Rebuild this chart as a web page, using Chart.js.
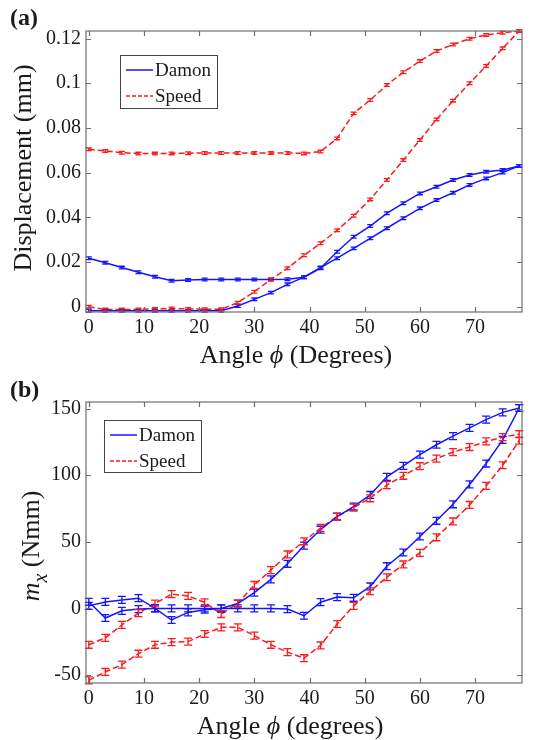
<!DOCTYPE html>
<html>
<head>
<meta charset="utf-8">
<script src="https://cdn.jsdelivr.net/npm/chart.js@4"></script>
<style>
  body { margin: 0; background: #fff; }
  .panel { position: relative; width: 541px; height: 370px; }
  canvas { display: block; }
</style>
</head>
<body>
<div class="panel"><canvas id="chartA" width="541" height="370"></canvas></div>
<div class="panel"><canvas id="chartB" width="541" height="370"></canvas></div>
<script>
// shared x values (angle, degrees)
const angles = [0, 3, 6, 9, 12, 15, 18, 21, 24, 27, 30, 33, 36, 39, 42, 45, 48, 51, 54, 57, 60, 63, 66, 69, 72, 75, 78];
const xTicks = [0, 10, 20, 30, 40, 50, 60, 70];
const seriesNames = ["Damon", "Speed"];

// (a) displacement (mm), two branches per bracket
const dispTicks = [0, 0.02, 0.04, 0.06, 0.08, 0.1, 0.12];
const dispTickLabels = ["0", "0.02", "0.04", "0.06", "0.08", "0.1", "0.12"];
const damonDispLow = [-0.0018, -0.0018, -0.0018, -0.0018, -0.0018, -0.0018, -0.0018, -0.0018, -0.0018, 0.0003, 0.0033, 0.0063, 0.0100, 0.0132, 0.0175, 0.0217, 0.0261, 0.0306, 0.0351, 0.0396, 0.0440, 0.0477, 0.0510, 0.0545, 0.0574, 0.0600, 0.0630];
const damonDispHigh = [0.0217, 0.0197, 0.0175, 0.0154, 0.0134, 0.0116, 0.0119, 0.0122, 0.0122, 0.0122, 0.0122, 0.0122, 0.0123, 0.0132, 0.0172, 0.0246, 0.0313, 0.0361, 0.0418, 0.0463, 0.0507, 0.0537, 0.0567, 0.0589, 0.0604, 0.0612, 0.0630];
const speedDispLow = [0.0000, -0.0013, -0.0013, -0.0012, -0.0010, -0.0008, -0.0010, -0.0011, -0.0011, 0.0018, 0.0067, 0.0122, 0.0172, 0.0230, 0.0284, 0.0342, 0.0407, 0.0480, 0.0567, 0.0656, 0.0746, 0.0838, 0.0922, 0.1000, 0.1077, 0.1156, 0.1234];
const speedDispHigh = [0.0704, 0.0697, 0.0689, 0.0685, 0.0685, 0.0686, 0.0687, 0.0688, 0.0688, 0.0688, 0.0688, 0.0688, 0.0688, 0.0686, 0.0694, 0.0753, 0.0865, 0.0925, 0.0992, 0.1049, 0.1099, 0.1144, 0.1173, 0.1199, 0.1216, 0.1226, 0.1234];
const dispErr = 0.0006;

// (b) moment m_x (Nmm)
const momentTicks = [-50, 0, 50, 100, 150];
const momentTickLabels = ["-50", "0", "50", "100", "150"];
const damonMomentUp = [1.9, 4.9, 6.4, 7.7, 0, -8.7, -3.0, -1.0, 0, 3.7, 11.9, 21.8, 33.5, 47.2, 59.1, 69.0, 76.5, 85.2, 98.8, 107.0, 115.5, 122.9, 129.4, 135.6, 141.8, 147.2, 150.5];
const damonMomentDown = [5.0, -7.2, -1.8, -0.5, 0, 0, 0, 0, 0, 0, 0, 0, -0.5, -5.5, 4.7, 8.5, 8.0, 16.5, 31.7, 42.0, 54.0, 65.8, 78.2, 93.1, 108.8, 126.5, 150.5];
const speedMomentUp = [-27.3, -22.1, -12.4, -3.5, 3.7, 10.7, 9.4, 4.5, -4.2, 3.7, 17.6, 28.8, 40.5, 50.4, 60.4, 69.0, 75.7, 82.7, 92.6, 99.6, 106.8, 112.5, 117.4, 121.2, 125.4, 128.6, 130.8];
const speedMomentDown = [-54.0, -47.7, -42.2, -34.0, -27.3, -25.3, -24.9, -19.2, -14.2, -14.2, -20.4, -27.3, -32.8, -37.4, -27.8, -11.7, 1.9, 12.9, 23.4, 33.0, 41.7, 53.4, 65.3, 77.7, 92.0, 107.5, 126.0];
const momentErr = 2.6;

const BLUE = "rgb(20,20,255)";
const RED = "rgb(255,25,25)";
const SERIF = '"Liberation Serif", "DejaVu Serif", serif';

function branch(vals, color, dashed, err) {
    return {
        data: angles.map((a, i) => ({ x: a, y: vals[i] })),
        borderColor: color,
        backgroundColor: color,
        borderWidth: 1.5,
        borderDash: dashed ? [6, 3] : [],
        pointRadius: 0,
        showLine: true,
        tension: 0,
        err
    };
}

// little error bars on every point
const errorBars = {
    id: "errorBars",
    afterDatasetsDraw(chart) {
        const { ctx, scales: { x, y } } = chart;
        chart.data.datasets.forEach(ds => {
            ctx.save();
            ctx.strokeStyle = ds.borderColor;
            ctx.lineWidth = 1.3;
            ctx.setLineDash([]);
            ds.data.forEach(p => {
                const px = x.getPixelForValue(p.x);
                const y1 = y.getPixelForValue(p.y - ds.err);
                const y2 = y.getPixelForValue(p.y + ds.err);
                const c = chart.options.plugins.errorBars.cap;
                ctx.beginPath();
                ctx.moveTo(px, y1); ctx.lineTo(px, y2);
                ctx.moveTo(px - c, y1); ctx.lineTo(px + c, y1);
                ctx.moveTo(px - c, y2); ctx.lineTo(px + c, y2);
                ctx.stroke();
            });
            ctx.restore();
        });
    }
};

// matlab style box with inward ticks, titles and legend
const decor = {
    id: "decor",
    afterDraw(chart) {
        const o = chart.options.plugins.decor;
        const { ctx, chartArea: a, scales: { x, y } } = chart;
        ctx.save();
        ctx.strokeStyle = "#6e6e6e";
        ctx.lineWidth = 1.2;
        ctx.setLineDash([]);
        ctx.strokeRect(a.left, a.top, a.right - a.left, a.bottom - a.top);
        ctx.beginPath();
        x.ticks.forEach(t => {
            const px = Math.round(x.getPixelForValue(t.value)) + 0.5;
            ctx.moveTo(px, a.bottom); ctx.lineTo(px, a.bottom - 5);
            ctx.moveTo(px, a.top); ctx.lineTo(px, a.top + 5);
        });
        y.ticks.forEach(t => {
            const py = Math.round(y.getPixelForValue(t.value)) + 0.5;
            ctx.moveTo(a.left, py); ctx.lineTo(a.left + 5, py);
            ctx.moveTo(a.right, py); ctx.lineTo(a.right - 5, py);
        });
        ctx.stroke();

        // legend
        const L = o.legend;
        ctx.fillStyle = "#fff";
        ctx.fillRect(L.x, L.y, L.w, L.h);
        ctx.strokeStyle = "#444";
        ctx.lineWidth = 1;
        ctx.strokeRect(L.x + 0.5, L.y + 0.5, L.w, L.h);
        [BLUE, RED].forEach((col, i) => {
            const ry = L.y + L.rows[i];
            ctx.strokeStyle = col;
            ctx.lineWidth = 1.5;
            ctx.setLineDash(i ? [4, 2] : []);
            ctx.beginPath();
            ctx.moveTo(L.x + 6, ry); ctx.lineTo(L.x + 33, ry);
            ctx.stroke();
            ctx.setLineDash([]);
            ctx.fillStyle = "#1a1a1a";
            ctx.font = "19px " + SERIF;
            ctx.textBaseline = "middle";
            ctx.fillText(seriesNames[i], L.x + 35, ry + 1);
        });

        // panel letter
        ctx.fillStyle = "#1a1a1a";
        ctx.font = "bold 24px " + SERIF;
        ctx.textBaseline = "alphabetic";
        ctx.fillText(o.letter, 10, o.letterY);

        drawRuns(ctx, o.xTitle, o.xTitlePos[0], o.xTitlePos[1], false);
        drawRuns(ctx, o.yTitle, o.yTitlePos[0], o.yTitlePos[1], true);
        ctx.restore();
    }
};

function drawRuns(ctx, runs, cx, cy, rotate) {
    ctx.save();
    ctx.translate(cx, cy);
    if (rotate) ctx.rotate(-Math.PI / 2);
    let total = 0;
    runs.forEach(r => { ctx.font = r.font; r.w = ctx.measureText(r.text).width; total += r.w; });
    let u = -total / 2;
    ctx.textAlign = "left";
    ctx.textBaseline = "alphabetic";
    ctx.fillStyle = "#1a1a1a";
    runs.forEach(r => { ctx.font = r.font; ctx.fillText(r.text, u, r.dy || 0); u += r.w; });
    ctx.restore();
}

function makeChart(id, datasets, yMin, yMax, yTicks, yLabels, err, cap, decorOpts) {
    return new Chart(document.getElementById(id), {
        type: "scatter",
        data: { datasets },
        plugins: [errorBars, decor],
        options: {
            responsive: false,
            animation: false,
            layout: { padding: { top: decorOpts.top, right: 19, left: 0, bottom: 0 } },
            plugins: {
                legend: { display: false },
                tooltip: { enabled: false },
                errorBars: { cap },
                decor: decorOpts
            },
            scales: {
                x: {
                    type: "linear",
                    min: -0.5,
                    max: 78.5,
                    afterBuildTicks: s => { s.ticks = xTicks.map(v => ({ value: v })); },
                    afterFit: s => { s.height = decorOpts.xAxisH; },
                    grid: { display: false, drawTicks: false },
                    border: { display: false },
                    ticks: { font: { family: SERIF, size: 20 }, color: "#1a1a1a", padding: 4, maxRotation: 0 }
                },
                y: {
                    type: "linear",
                    min: yMin,
                    max: yMax,
                    afterBuildTicks: s => { s.ticks = yTicks.map(v => ({ value: v })); },
                    afterFit: s => { s.width = 86; },
                    grid: { display: false, drawTicks: false },
                    border: { display: false },
                    ticks: {
                        font: { family: SERIF, size: 20 },
                        color: "#1a1a1a",
                        padding: 5,
                        callback: v => yLabels[yTicks.indexOf(v)]
                    }
                }
            }
        }
    });
}

makeChart("chartA", [
    branch(damonDispLow, BLUE, false, dispErr),
    branch(damonDispHigh, BLUE, false, dispErr),
    branch(speedDispLow, RED, true, dispErr),
    branch(speedDispHigh, RED, true, dispErr)
], -0.00237, 0.12336, dispTicks, dispTickLabels, dispErr, 3, {
    top: 31,
    xAxisH: 58,
    letter: "(a)",
    letterY: 25,
    legend: { x: 120, y: 55, w: 97, h: 53, rows: [15, 41] },
    xTitle: [
        { text: "Angle ", font: "26px " + SERIF },
        { text: "ϕ", font: "italic 26px " + SERIF },
        { text: " (Degrees)", font: "26px " + SERIF }
    ],
    xTitlePos: [296, 363],
    yTitle: [{ text: "Displacement (mm)", font: "26px " + SERIF }],
    yTitlePos: [31, 168]
});

makeChart("chartB", [
    branch(damonMomentUp, BLUE, false, momentErr),
    branch(damonMomentDown, BLUE, false, momentErr),
    branch(speedMomentUp, RED, true, momentErr),
    branch(speedMomentDown, RED, true, momentErr)
], -56, 155, momentTicks, momentTickLabels, momentErr, 4, {
    top: 32,
    xAxisH: 57,
    letter: "(b)",
    letterY: 27,
    legend: { x: 104, y: 50, w: 97, h: 52, rows: [15, 41] },
    xTitle: [
        { text: "Angle ", font: "26px " + SERIF },
        { text: "ϕ", font: "italic 26px " + SERIF },
        { text: " (degrees)", font: "26px " + SERIF }
    ],
    xTitlePos: [290, 364],
    yTitle: [
        { text: "m", font: "italic 26px " + SERIF },
        { text: "x", font: "italic 20px " + SERIF, dy: 8 },
        { text: " (Nmm)", font: "26px " + SERIF }
    ],
    yTitlePos: [39, 176]
});
</script>
</body>
</html>
